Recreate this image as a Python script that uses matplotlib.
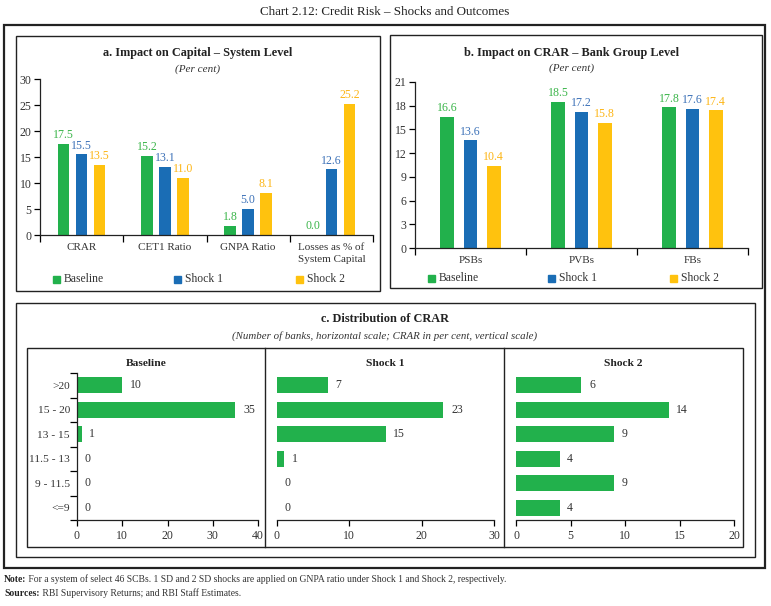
import matplotlib
matplotlib.use("Agg")
import matplotlib.pyplot as plt
from matplotlib.patches import Rectangle
import numpy as np

plt.rcParams['font.family'] = ['Liberation Serif', 'DejaVu Serif']
TXT = '#333333'

# ---------------- data ----------------
a_categories = ['CRAR', 'CET1 Ratio', 'GNPA Ratio', 'Losses as % of\nSystem Capital']
a_baseline = [17.5, 15.2, 1.8, 0.0]
a_shock1 = [15.5, 13.1, 5.0, 12.6]
a_shock2 = [13.5, 11.0, 8.1, 25.2]

b_categories = ['PSBs', 'PVBs', 'FBs']
b_baseline = [16.6, 18.5, 17.8]
b_shock1 = [13.6, 17.2, 17.6]
b_shock2 = [10.4, 15.8, 17.4]

c_categories = ['>20', '15 - 20', '13 - 15', '11.5 - 13', '9 - 11.5', '<=9']
c_baseline = [10, 35, 1, 0, 0, 0]
c_shock1 = [7, 23, 15, 1, 0, 0]
c_shock2 = [6, 14, 9, 4, 9, 4]

series_names = ['Baseline', 'Shock 1', 'Shock 2']
GREEN, BLUE, YELLOW = '#22B14C', '#1A6DB5', '#FFC20E'
colors = [GREEN, BLUE, YELLOW]
label_colors = ['#3BB54A', '#3D72B8', '#FDB515']

W, H = 771, 606
fig = plt.figure(figsize=(W / 100, H / 100), dpi=100)


def rect(x0, y0, x1, y1):
    return [x0 / W, 1 - y1 / H, (x1 - x0) / W, (y1 - y0) / H]


def frame(x0, y0, x1, y1, lw=1.0, color='#222222'):
    fig.patches.append(Rectangle((x0 / W, 1 - y1 / H), (x1 - x0) / W, (y1 - y0) / H,
                                 transform=fig.transFigure, fill=False, lw=lw,
                                 edgecolor=color))


def vline(x, y0, y1, lw=1.0):
    fig.add_artist(plt.Line2D([x / W, x / W], [1 - y0 / H, 1 - y1 / H],
                              transform=fig.transFigure, color='#222222', lw=lw))


def ftext(x, y, s, **kw):
    kw.setdefault('color', TXT)
    return fig.text(x / W, 1 - y / H, s, **kw)


def legend_item(x, y, color, label):
    fig.patches.append(Rectangle((x / W, 1 - (y + 3.5) / H), 7 / W, 7 / H,
                                 transform=fig.transFigure, color=color))
    ftext(x + 11, y, label, va='center', ha='left', fontsize=8.4)


# frames
ftext(385, 12, 'Chart 2.12: Credit Risk \u2013 Shocks and Outcomes', ha='center', va='center',
      fontsize=9.4, color='#222222')
frame(4, 25, 765, 568, lw=1.6)
frame(16, 36, 380, 291)
frame(390, 35, 762, 288)
frame(16, 303, 755, 557)
frame(27, 348, 743, 547)
vline(265, 348, 547)
vline(504, 348, 547)


def grouped(ax, cats, data, width, step, ymax, ystep):
    n = len(cats)
    x = np.arange(n)
    for i, (vals, c, lc) in enumerate(zip(data, colors, label_colors)):
        pos = x + (i - 1) * step
        ax.bar(pos, vals, width=width, color=c, lw=0)
        for p, v in zip(pos, vals):
            ax.annotate(f'{v:.1f}', (p, v), xytext=(0, 2), textcoords='offset points',
                        ha='center', va='bottom', fontsize=8.6, color=lc)
    ax.set_xlim(-0.5, n - 0.5)
    ax.set_ylim(0, ymax)
    ax.set_yticks(np.arange(0, ymax + 0.1, ystep))
    ax.set_xticks(x)
    ax.set_xticklabels(cats, fontsize=8, color=TXT, linespacing=1.4)
    ax.set_xticks(np.arange(-0.5, n, 1.0), minor=True)
    ax.tick_params(axis='x', which='major', length=0, pad=6)
    ax.tick_params(axis='x', which='minor', length=5, width=0.9, direction='out')
    ax.tick_params(axis='y', length=4, width=0.9, direction='out', labelsize=8.5,
                   labelcolor=TXT, pad=2)
    for s in ['top', 'right']:
        ax.spines[s].set_visible(False)
    for s in ['left', 'bottom']:
        ax.spines[s].set_linewidth(0.9)
        ax.spines[s].set_color('#222222')
    ax.patch.set_alpha(0)


# ---------------- panel a ----------------
axa = fig.add_axes(rect(40, 79, 373, 235))
grouped(axa, a_categories, [a_baseline, a_shock1, a_shock2], 0.14, 0.216, 30, 5)
ftext(198, 53, 'a. Impact on Capital \u2013 System Level', ha='center', va='center',
      fontsize=8.8, fontweight='bold', color='#222222')
ftext(198, 69, '(Per cent)', ha='center', va='center', fontsize=8, style='italic')
for xx, c, n in zip([53, 174, 296], colors, series_names):
    legend_item(xx, 279, c, n)

# ---------------- panel b ----------------
axb = fig.add_axes(rect(415, 82, 748, 248))
grouped(axb, b_categories, [b_baseline, b_shock1, b_shock2], 0.126, 0.21, 21, 3)
ftext(572, 53, 'b. Impact on CRAR \u2013 Bank Group Level', ha='center', va='center',
      fontsize=8.8, fontweight='bold', color='#222222')
ftext(572, 68, '(Per cent)', ha='center', va='center', fontsize=8, style='italic')
for xx, c, n in zip([428, 548, 670], colors, series_names):
    legend_item(xx, 278, c, n)

# ---------------- panel c ----------------
ftext(385, 319, 'c. Distribution of CRAR', ha='center', va='center',
      fontsize=8.8, fontweight='bold', color='#222222')
ftext(385, 336, '(Number of banks, horizontal scale; CRAR in per cent, vertical scale)',
      ha='center', va='center', fontsize=7.8, style='italic')

c_specs = [
    (c_baseline, 'Baseline', (77, 258), 40, 10, 146, True),
    (c_shock1, 'Shock 1', (277, 494), 30, 10, 385, False),
    (c_shock2, 'Shock 2', (516, 734), 20, 5, 623, False),
]
for vals, title, (x0, x1), xmax, xstep, tcx, first in c_specs:
    ax = fig.add_axes(rect(x0, 373, x1, 520))
    y = np.arange(len(c_categories))
    ax.barh(y, vals, height=0.66, color=GREEN, lw=0)
    for yy, v in zip(y, vals):
        ax.annotate(f'{v}', (v, yy), xytext=(5.5, 0), textcoords='offset points',
                    ha='left', va='center', fontsize=8.5, color=TXT)
    ax.set_ylim(len(c_categories) - 0.5, -0.5)
    ax.set_xlim(0, xmax)
    ax.set_xticks(np.arange(0, xmax + 0.1, xstep))
    ax.tick_params(axis='x', length=4, width=0.9, direction='out', labelsize=8.5,
                   labelcolor=TXT, pad=3)
    for s in ['top', 'right']:
        ax.spines[s].set_visible(False)
    ax.spines['bottom'].set_linewidth(0.9)
    ax.spines['bottom'].set_color('#222222')
    if first:
        ax.set_yticks(y)
        ax.set_yticklabels(c_categories, fontsize=8.2, color=TXT)
        ax.set_yticks(np.arange(-0.5, len(c_categories), 1.0), minor=True)
        ax.tick_params(axis='y', which='major', length=0, pad=5)
        ax.tick_params(axis='y', which='minor', length=5, width=0.9, direction='out')
        ax.spines['left'].set_linewidth(0.9)
        ax.spines['left'].set_color('#222222')
    else:
        ax.spines['left'].set_visible(False)
        ax.set_yticks([])
    ax.patch.set_alpha(0)
    ftext(tcx, 363, title, ha='center', va='center', fontsize=8.2, fontweight='bold',
          color='#222222')

# ---------------- notes ----------------
t1 = ftext(4, 579, 'Note:', ha='left', va='center', fontsize=6.9, fontweight='bold',
           color='#222222')
plt.annotate(' For a system of select 46 SCBs. 1 SD and 2 SD shocks are applied on GNPA ratio '
             'under Shock 1 and Shock 2, respectively.', xy=(1, 0.5), xycoords=t1,
             va='center', ha='left', fontsize=6.9, color=TXT, annotation_clip=False)
t2 = ftext(4, 593, 'Sources:', ha='left', va='center', fontsize=6.9, fontweight='bold',
           color='#222222')
plt.annotate(' RBI Supervisory Returns; and RBI Staff Estimates.', xy=(1, 0.5), xycoords=t2,
             va='center', ha='left', fontsize=6.9, color=TXT, annotation_clip=False)

fig.savefig('out.png', dpi=100)
